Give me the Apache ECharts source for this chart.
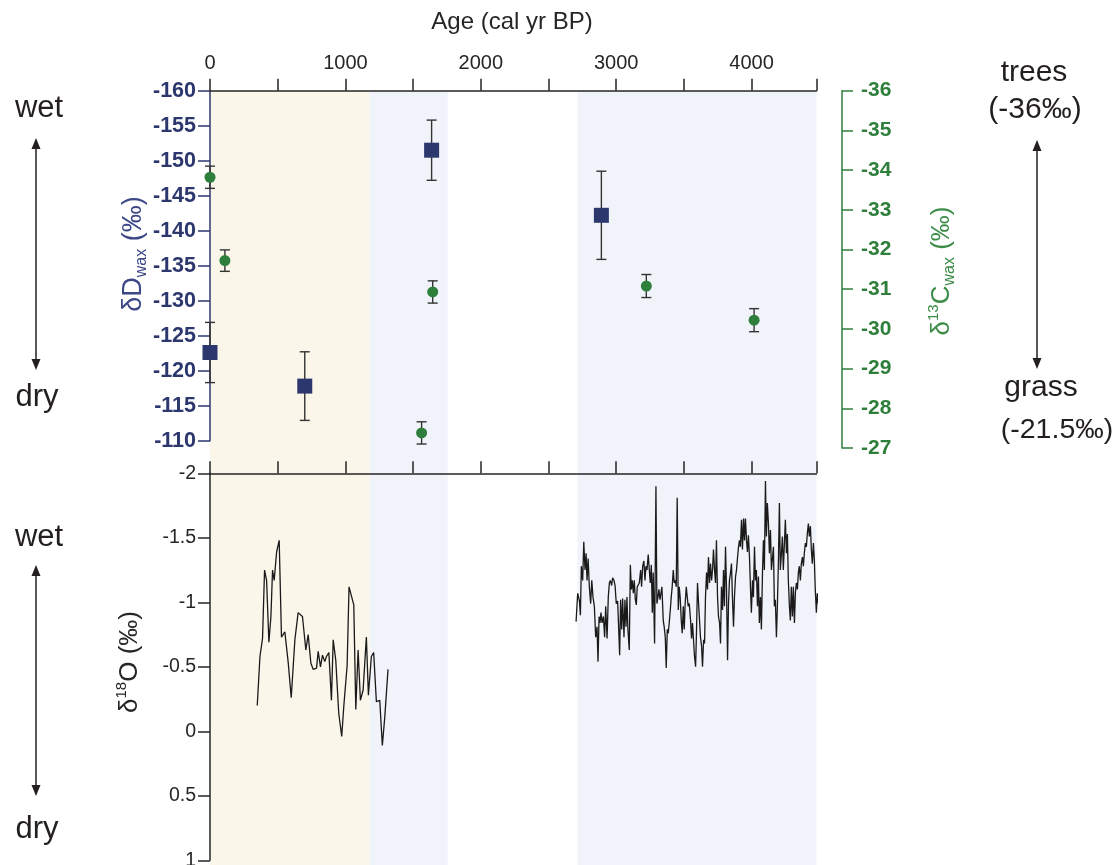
<!DOCTYPE html>
<html><head><meta charset="utf-8">
<script src="https://cdn.jsdelivr.net/npm/echarts@6/dist/echarts.min.js"></script>
<style>html,body{margin:0;padding:0;background:#fff}#c{width:1115px;height:865px}</style>
</head><body><div id="c"></div>
<script>
// ---- data ----
const dDAge = [0, 700, 1637, 2891];
const dDVal = [-122.6, -117.8, -151.5, -142.2];
const dDErr = [4.3, 4.9, 4.3, 6.3];

const d13CAge = [0, 110, 1563, 1645, 3223, 4019];
const d13CVal = [-33.82, -31.72, -27.38, -30.93, -31.08, -30.22];
const d13CErr = [0.28, 0.27, 0.28, 0.28, 0.29, 0.29];

const o18Age1 = [349,369,381,388,403,418,435,450,462,474,492,511,528,553,578,600,627,651,683,708,725,745,762,787,799,816,831,848,860,878,897,910,929,951,973,988,1013,1027,1062,1077,1094,1111,1131,1155,1170,1192,1209,1229,1254,1273,1291,1315];
const o18Val1 = [-0.20,-0.58,-0.59,-0.72,-1.25,-1.17,-0.69,-0.89,-1.25,-1.17,-1.39,-1.48,-0.73,-0.77,-0.53,-0.26,-0.71,-0.92,-0.89,-0.63,-0.75,-0.53,-0.48,-0.49,-0.62,-0.50,-0.59,-0.54,-0.58,-0.61,-0.24,-0.71,-0.55,-0.14,0.04,-0.19,-0.51,-1.12,-0.98,-0.17,-0.63,-0.24,-0.32,-0.73,-0.28,-0.58,-0.61,-0.23,-0.24,0.11,-0.11,-0.48];

const o18Age2 = [2704,2716,2729,2736,2743,2753,2761,2770,2778,2785,2793,2802,2812,2820,2829,2839,2849,2859,2866,2874,2881,2888,2896,2906,2915,2923,2933,2942,2950,2957,2967,2974,2984,2992,3001,3011,3019,3026,3033,3041,3048,3058,3065,3073,3080,3087,3097,3105,3112,3119,3127,3134,3142,3149,3156,3164,3171,3181,3188,3196,3205,3213,3220,3228,3237,3245,3252,3260,3267,3274,3284,3294,3301,
3309,3316,3324,3331,3338,3348,3355,3363,3370,3378,3385,3392,3400,3407,3414,3422,3429,3437,3444,3451,3459,3466,3473,3481,3488,3496,3503,3510,3518,3525,3532,3540,
3550,3557,3564,3572,3579,3587,3594,3601,3609,3616,3623,3631,3638,3646,3653,3660,3668,3675,3682,3690,3697,3705,3712,3719,3727,3734,3741,3749,3756,3764,3771,3778,3786,3793,3800,3808,3815,3823,3830,3837,3845,3852,3859,3867,3874,3882,3889,3896,3904,3911,3918,3926,3933,3941,3948,3955,3963,3970,3977,3985,3992,3999,4007,4014,4022,4029,4036,4044,4051,4058,4066,4073,4081,4088,4095,4103,4110,4117,4125,4132,4140,4147,4154,4162,4169,4176,4184,4191,4199,4206,4213,4221,4228,4235,4243,4250,4258,4265,4272,4280,4287,4294,4302,4309,4317,4324,4331,4339,4346,4353,4361,4368,4376,4383,4390,4398,4405,4412,4420,4427,4435,4442,4449,4457,4464,4471,4479,4486,4494];
const o18Val2 = [-0.85,-1.07,-1.01,-0.90,-1.28,-1.17,-1.47,-1.25,-1.38,-1.17,-1.34,-1.12,-0.99,-1.17,-1.04,-0.97,-0.73,-0.81,-0.54,-0.89,-0.84,-0.92,-0.84,-0.89,-0.73,-0.97,-0.72,-1.04,-1.15,-1.17,-1.13,-1.19,-1.17,-1.13,-0.99,-1.01,-0.79,-0.59,-1.02,-0.79,-1.03,-0.73,-1.02,-0.81,-1.04,-0.79,-0.63,-1.29,-1.10,-1.17,-1.07,-1.17,-1.02,-0.98,-1.12,-1.11,-1.15,-1.25,-1.12,-1.28,-1.32,-1.17,-1.28,-1.25,-1.37,-1.25,-1.15,-1.29,-0.92,-1.23,-0.68,-1.90,-0.99,
-1.04,-1.10,-1.02,-1.07,-1.12,-0.86,-0.81,-0.73,-0.49,-0.79,-0.76,-0.84,-0.94,-1.04,-1.12,-1.25,-1.15,-1.17,-1.12,-1.81,-0.94,-1.12,-1.04,-0.86,-0.76,-0.97,-0.79,-0.99,-1.12,-1.13,-0.97,-0.99,
-0.86,-0.72,-0.84,-0.70,-0.58,-0.50,-0.79,-1.15,-0.99,-0.86,-0.73,-0.66,-0.50,-0.71,-0.68,-1.04,-1.23,-1.10,-1.35,-1.15,-1.30,-1.17,-1.25,-1.41,-1.25,-1.15,-1.48,-1.04,-0.89,-0.84,-0.68,-1.12,-0.94,-1.25,-0.97,-1.43,-1.12,-0.55,-0.99,-1.17,-1.23,-1.30,-1.04,-0.81,-1.04,-1.20,-1.25,-1.34,-1.43,-1.48,-1.43,-1.64,-1.41,-1.65,-1.48,-1.65,-1.48,-1.39,-1.52,-1.35,-1.12,-0.92,-1.17,-1.04,-1.43,-1.17,-1.25,-0.97,-1.20,-0.84,-1.04,-0.79,-1.23,-1.48,-1.25,-1.94,-1.51,-1.77,-1.61,-1.38,-1.56,-1.25,-1.33,-1.43,-0.97,-1.02,-0.73,-0.97,-1.33,-1.77,-1.25,-1.38,-1.51,-1.25,-1.46,-1.64,-1.38,-1.53,-1.17,-0.97,-0.86,-1.12,-0.89,-1.12,-0.84,-1.07,-1.15,-1.10,-1.23,-1.28,-1.17,-1.30,-1.35,-1.28,-1.38,-1.46,-1.43,-1.53,-1.61,-1.51,-1.59,-1.41,-1.30,-1.46,-1.33,-1.10,-0.92,-1.07,-0.99];

const periodStart = [0, 1180, 2714];
const periodEnd = [1180, 1756, 4480];

const ageMin = 0, ageMax = 4480;

// ---- styles ----
const NAVY = '#2c376e', NAVY_T = '#3b4786', GREEN = '#2e7f3b', GREEN_T = '#3c8c48', DARK = '#262626';
const periodColors = ['#faf6ea', '#f1f3fa', '#f1f3fa'];
const FONT = 'Liberation Sans, Arial, sans-serif';

const chart = echarts.init(document.getElementById('c'));

function zipErr(a, v, e) { return a.map((x, i) => [x, v[i] - e[i], v[i] + e[i]]); }
function zip(a, v) { return a.map((x, i) => [x, v[i]]); }

function errRender(capW, color) {
  return function (params, api) {
    const x = api.value(0);
    const lo = api.coord([x, api.value(1)]);
    const hi = api.coord([x, api.value(2)]);
    const st = { stroke: color, lineWidth: 1.4 };
    return { type: 'group', children: [
      { type: 'line', shape: { x1: lo[0], y1: lo[1], x2: hi[0], y2: hi[1] }, style: st },
      { type: 'line', shape: { x1: lo[0] - capW / 2, y1: lo[1], x2: lo[0] + capW / 2, y2: lo[1] }, style: st },
      { type: 'line', shape: { x1: hi[0] - capW / 2, y1: hi[1], x2: hi[0] + capW / 2, y2: hi[1] }, style: st }
    ]};
  };
}

function vArrow(x, y1, y2) {
  const h = 11, w = 4.5, c = '#231f20';
  return [
    { type: 'line', shape: { x1: x, y1: y1 + h - 2, x2: x, y2: y2 - h + 2 }, style: { stroke: c, lineWidth: 1.5 } },
    { type: 'polygon', shape: { points: [[x, y1], [x - w, y1 + h], [x + w, y1 + h]] }, style: { fill: c } },
    { type: 'polygon', shape: { points: [[x, y2], [x - w, y2 - h], [x + w, y2 - h]] }, style: { fill: c } }
  ];
}
function txt(x, y, s, size, color) {
  return { type: 'text', x: x, y: y, style: { text: s, fontSize: size, fontFamily: FONT, fill: color, align: 'center', verticalAlign: 'middle' } };
}
function rtxt(x, y, s, rich) {
  return { type: 'text', x: x, y: y, rotation: Math.PI / 2, style: { text: s, rich: rich, fontFamily: FONT, align: 'center', verticalAlign: 'middle' } };
}

const L = 210, W = 606.5;
const gridCommon = { left: L, width: W, outerBoundsMode: 'none', containLabel: false };

const option = {
  animation: false,
  backgroundColor: '#ffffff',
  textStyle: { fontFamily: FONT },
  grid: [
    Object.assign({ top: 90.7, height: 350 }, gridCommon),
    Object.assign({ top: 90.7, height: 357.3 }, gridCommon),
    Object.assign({ top: 473.3, height: 387 }, gridCommon),
    Object.assign({ top: 90.7, bottom: 0 }, gridCommon)
  ],
  xAxis: [
    { gridIndex: 0, type: 'value', min: ageMin, max: ageMax, interval: 500, position: 'top',
      axisLine: { show: true, onZero: false, lineStyle: { color: DARK, width: 1.5 } },
      axisTick: { show: true, length: 12, lineStyle: { color: DARK, width: 1.5 } },
      axisLabel: { show: true, fontSize: 20, color: DARK, margin: 17, fontFamily: FONT,
        formatter: v => (v % 1000 === 0 ? String(v) : '') , hideOverlap: false},
      splitLine: { show: false } },
    { gridIndex: 1, type: 'value', min: ageMin, max: ageMax, show: false },
    { gridIndex: 2, type: 'value', min: ageMin, max: ageMax, interval: 500, position: 'top',
      axisLine: { show: true, onZero: false, lineStyle: { color: DARK, width: 1.5 } },
      axisTick: { show: true, length: 12, lineStyle: { color: DARK, width: 1.5 } },
      axisLabel: { show: false }, splitLine: { show: false } },
    { gridIndex: 3, type: 'value', min: ageMin, max: ageMax, show: false }
  ],
  yAxis: [
    { gridIndex: 0, type: 'value', min: -160, max: -110, interval: 5, inverse: true, position: 'left',
      axisLine: { show: true, onZero: false, lineStyle: { color: NAVY, width: 1.5 } },
      axisTick: { show: true, length: 12, lineStyle: { color: NAVY, width: 1.5 } },
      axisLabel: { color: NAVY, fontWeight: 'bold', fontSize: 21.5, margin: 14, fontFamily: FONT },
      splitLine: { show: false } },
    { gridIndex: 1, type: 'value', min: -36, max: -27, interval: 1, inverse: true, position: 'right', offset: 25.5,
      axisLine: { show: true, onZero: false, lineStyle: { color: GREEN, width: 1.5 } },
      axisTick: { show: true, length: 11, lineStyle: { color: GREEN, width: 1.5 } },
      axisLabel: { color: GREEN, fontWeight: 'bold', fontSize: 21, margin: 19, fontFamily: FONT },
      splitLine: { show: false } },
    { gridIndex: 2, type: 'value', min: -2, max: 1, interval: 0.5, inverse: true, position: 'left',
      axisLine: { show: true, onZero: false, lineStyle: { color: DARK, width: 1.5 } },
      axisTick: { show: true, length: 12, lineStyle: { color: DARK, width: 1.5 } },
      axisLabel: { color: DARK, fontSize: 19.5, margin: 14, fontFamily: FONT },
      splitLine: { show: false } },
    { gridIndex: 3, type: 'value', min: 0, max: 1, show: false }
  ],
  series: [
    { type: 'line', xAxisIndex: 3, yAxisIndex: 3, data: [], z: -10, silent: true,
      markArea: { silent: true, z: -10,
        data: periodStart.map((s, i) => [{ xAxis: s, itemStyle: { color: periodColors[i] } }, { xAxis: periodEnd[i] }]) } },
    { type: 'custom', xAxisIndex: 0, yAxisIndex: 0, renderItem: errRender(10, '#333333'),
      data: zipErr(dDAge, dDVal, dDErr), z: 3, clip: false },
    { type: 'scatter', xAxisIndex: 0, yAxisIndex: 0, symbol: 'rect', symbolSize: 15, clip: false,
      itemStyle: { color: NAVY, opacity: 1 }, data: zip(dDAge, dDVal), z: 4 },
    { type: 'custom', xAxisIndex: 1, yAxisIndex: 1, renderItem: errRender(10, '#333333'),
      data: zipErr(d13CAge, d13CVal, d13CErr), z: 3, clip: false },
    { type: 'scatter', xAxisIndex: 1, yAxisIndex: 1, symbol: 'circle', symbolSize: 11, clip: false,
      itemStyle: { color: GREEN, opacity: 1 }, data: zip(d13CAge, d13CVal), z: 4 },
    { type: 'line', xAxisIndex: 2, yAxisIndex: 2, data: zip(o18Age1, o18Val1), showSymbol: false, symbol: 'none',
      lineStyle: { color: '#1a1a1a', width: 1.3 }, z: 3 },
    { type: 'line', xAxisIndex: 2, yAxisIndex: 2, data: zip(o18Age2, o18Val2), showSymbol: false, symbol: 'none',
      lineStyle: { color: '#1a1a1a', width: 1.3 }, z: 3, clip: true }
  ],
  graphic: [].concat(
    [txt(512, 22, 'Age (cal yr BP)', 24, DARK)],
    [rtxt(134, 254, '{m|δD}{s|wax}{m| (‰)}', {
      m: { fontSize: 27, fill: NAVY_T, color: NAVY_T, lineHeight: 32, fontFamily: FONT },
      s: { fontSize: 16, fill: NAVY_T, color: NAVY_T, verticalAlign: 'bottom', lineHeight: 16, fontFamily: FONT } })],
    [rtxt(942, 271, '{m|δ}{p|13}{m|C}{s|wax}{m| (‰)}', {
      m: { fontSize: 26, fill: GREEN_T, color: GREEN_T, lineHeight: 32, fontFamily: FONT },
      p: { fontSize: 15, fill: GREEN_T, color: GREEN_T, verticalAlign: 'top', lineHeight: 15, fontFamily: FONT },
      s: { fontSize: 16, fill: GREEN_T, color: GREEN_T, verticalAlign: 'bottom', lineHeight: 16, fontFamily: FONT } })],
    [rtxt(130, 662, '{m|δ}{p|18}{m|O (‰)}', {
      m: { fontSize: 26, fill: DARK, color: DARK, lineHeight: 32, fontFamily: FONT },
      p: { fontSize: 15, fill: DARK, color: DARK, verticalAlign: 'top', lineHeight: 15, fontFamily: FONT } })],
    [txt(39, 108, 'wet', 31, '#231f20'), txt(37, 397, 'dry', 31, '#231f20')],
    vArrow(36, 138, 370),
    [txt(39, 537, 'wet', 31, '#231f20'), txt(37, 829, 'dry', 31, '#231f20')],
    vArrow(36, 565, 796),
    [txt(1034, 73, 'trees', 30, '#231f20'), txt(1035, 110, '(-36‰)', 30, '#231f20'),
     txt(1041, 388, 'grass', 30, '#231f20'), txt(1057, 430, '(-21.5‰)', 28.5, '#231f20')],
    vArrow(1037, 140, 369)
  )
};
chart.setOption(option);
</script>
</body></html>
